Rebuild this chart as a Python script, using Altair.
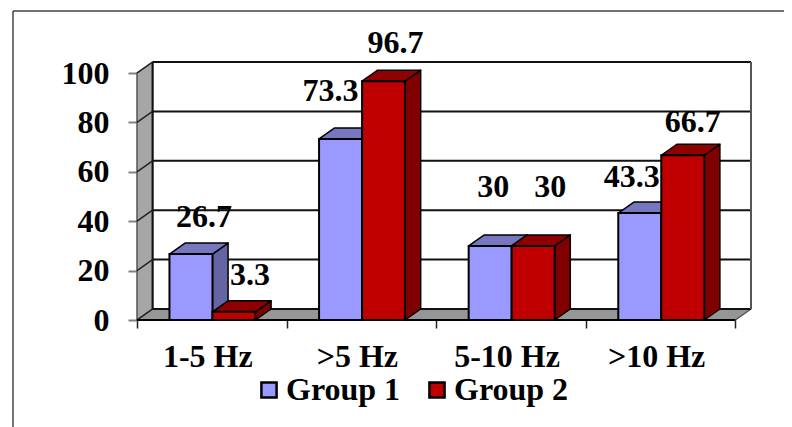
import altair as alt
import pandas as pd

categories = ["1-5 Hz", ">5 Hz", "5-10 Hz", ">10 Hz"]
series_names = ["Group 1", "Group 2"]
group1 = [26.7, 73.3, 30, 43.3]
group2 = [3.3, 96.7, 30, 66.7]
y_ticks = [0, 20, 40, 60, 80, 100]

# ---- layout (data units) ----
PX_X = 149.6          # px per category
PX_Y = 2.47           # px per value unit
DX = 15.6 / PX_X      # depth of the 3-D box
DY = 11 / PX_Y
BAR = 0.2875
START = 0.217
N = len(categories)
FONT = "Liberation Serif"
FS = 32

xs = alt.Scale(domain=[0, N + DX], nice=False, zero=False)
ys = alt.Scale(domain=[0, 100 + DY], nice=False, zero=False)

X_AXIS = alt.Axis(values=list(range(N + 1)), labels=False, domain=False, grid=False,
                  tickColor="#222222", tickSize=8, tickWidth=1.5, orient="bottom", title=None)
Y_AXIS = alt.Axis(values=y_ticks, domain=False, grid=False, tickColor="#808080",
                  tickSize=9, tickWidth=2, labelPadding=19, labelFont=FONT,
                  labelFontWeight="bold", labelFontSize=FS, labelColor="black",
                  orient="left", title=None)


def X(f):
    return alt.X(f, type="quantitative", scale=xs, axis=X_AXIS)


def Y(f):
    return alt.Y(f, type="quantitative", scale=ys, axis=Y_AXIS, stack=None)


def poly(rows, fill, stroke="black", sw=1.5):
    return alt.Chart(pd.DataFrame(rows, columns=["id", "x", "y", "y2"])).mark_area(
        fill=fill, stroke=stroke, strokeWidth=sw, strokeJoin="round", opacity=1
    ).encode(x=X("x"), y=Y("y"), y2="y2:Q", detail="id:N")


# ---- walls and floor ----
wall = poly([["w", 0, 100, 0], ["w", DX, 100 + DY, DY]], "#a6a6a6", "#555555")
floor = poly(
    [["f", 0, 0, 0], ["f", DX, DY, 0], ["f", N, DY, 0], ["f", N + DX, DY, DY]],
    "#969696", "#555555",
)

grid_df = pd.DataFrame({"v": y_ticks})
grid_df["a"] = DX
grid_df["b"] = N + DX
grid_df["y"] = grid_df["v"] + DY
grid = alt.Chart(grid_df).mark_rule(color="#111111", strokeWidth=2).encode(
    x=X("a"), x2="b:Q", y=Y("y"),
)
diag_rows = []
for v in y_ticks:
    diag_rows += [[f"d{v}", 0, v], [f"d{v}", DX, v + DY]]
diag = alt.Chart(pd.DataFrame(diag_rows, columns=["id", "x", "y"])).mark_line(
    color="#222222", strokeWidth=1.5
).encode(x=X("x"), y=Y("y"), detail="id:N")
edge_df = pd.DataFrame({"x": [DX, N + DX], "y": [DY, DY], "y2": [100 + DY, 100 + DY],
                        "c": ["#111111", "#555555"]})
edges = alt.Chart(edge_df).mark_rule(strokeWidth=2).encode(
    x=X("x"), y=Y("y"), y2="y2:Q", color=alt.Color("c:N", scale=None),
)


# ---- bars ----
def bars(values, idx, name, top_c, side_c):
    top_rows, side_rows, front = [], [], []
    for i, v in enumerate(values):
        x0 = i + START + idx * BAR
        x1 = x0 + BAR
        top_rows += [[i, x0, v, v], [i, x0 + DX, v + DY, v], [i, x1, v + DY, v], [i, x1 + DX, v + DY, v + DY]]
        side_rows += [[i, x1, v, 0], [i, x1 + DX, v + DY, DY]]
        front.append({"x": x0, "x2": x1, "v": v, "s": name, "b": 0})
    fr = alt.Chart(pd.DataFrame(front)).mark_rect(stroke="black", strokeWidth=2).encode(
        x=X("x"), x2="x2:Q", y=Y("v"), y2="b:Q",
        color=alt.Color(
            "s:N",
            scale=alt.Scale(domain=series_names, range=["#9999FF", "#C00000"]),
            legend=alt.Legend(
                orient="none", legendX=116, legendY=312, direction="horizontal",
                title=None, labelFont=FONT, labelFontWeight="bold", labelFontSize=FS,
                labelColor="black", symbolType="square", symbolSize=230,
                symbolStrokeColor="black", symbolStrokeWidth=2.5, labelOffset=1,
                columnPadding=20, labelLimit=200, symbolOpacity=1,
            ),
        ),
    )
    return [poly(side_rows, side_c), poly(top_rows, top_c), fr]


# ---- data labels: nudges from the bar centre, in px ----
label_nudge = [
    [(13, -37), (16, -37)], [(-10, -48), (12, -38)],
    [(3, -59), (17, -59)], [(-8, -36), (10, -33)],
]
lab_rows = []
for i in range(N):
    for j, vals in enumerate([group1, group2]):
        cx = i + START + (j + 0.5) * BAR
        nx, ny = label_nudge[i][j]
        lab_rows.append({"x": cx + nx / PX_X, "y": vals[i] - ny / PX_Y, "t": f"{vals[i]:g}"})
labels = alt.Chart(pd.DataFrame(lab_rows)).mark_text(
    font=FONT, fontWeight="bold", fontSize=FS, color="black", baseline="middle", align="center"
).encode(x=X("x"), y=Y("y"), text="t:N")

# ---- category labels ----
cat_df = pd.DataFrame({"x": [i + 0.5 for i in range(N)], "y": [-15] * N, "t": categories})
cat_labels = alt.Chart(cat_df).mark_text(
    font=FONT, fontWeight="bold", fontSize=FS, color="black", baseline="middle", align="center", dx=-4
).encode(x=X("x"), y=Y("y"), text="t:N")

# ---- axis line ----
axis_df = pd.DataFrame({"a": [0], "b": [N], "y": [0]})
base_line = alt.Chart(axis_df).mark_rule(color="black", strokeWidth=2).encode(
    x=X("a"), x2="b:Q", y=Y("y"),
)

# ---- outer frame ----
k_df = pd.DataFrame({"k": [0]})
frame_v = alt.Chart(k_df).mark_rule(color="#444444", strokeWidth=1.5).encode(
    x=alt.value(-124), y=alt.value(-51), y2=alt.value(365)
)
frame_h = alt.Chart(k_df).mark_rule(color="#444444", strokeWidth=1.5).encode(
    y=alt.value(-51), x=alt.value(-124), x2=alt.value(655)
)

chart = alt.layer(
    frame_v, frame_h, wall, floor, grid, edges, diag,
    *bars(group1, 0, series_names[0], "#7777BF", "#6565A5"),
    *bars(group2, 1, series_names[1], "#900000", "#800000"),
    base_line, labels, cat_labels,
).properties(
    width=614, height=258,
    autosize=alt.AutoSizeParams(type="none"),
    padding={"left": 129, "top": 54, "right": 33, "bottom": 107},
    background="white",
).configure_view(stroke=None)

chart.save("out.html", embed_options={"renderer": "svg", "actions": False})
